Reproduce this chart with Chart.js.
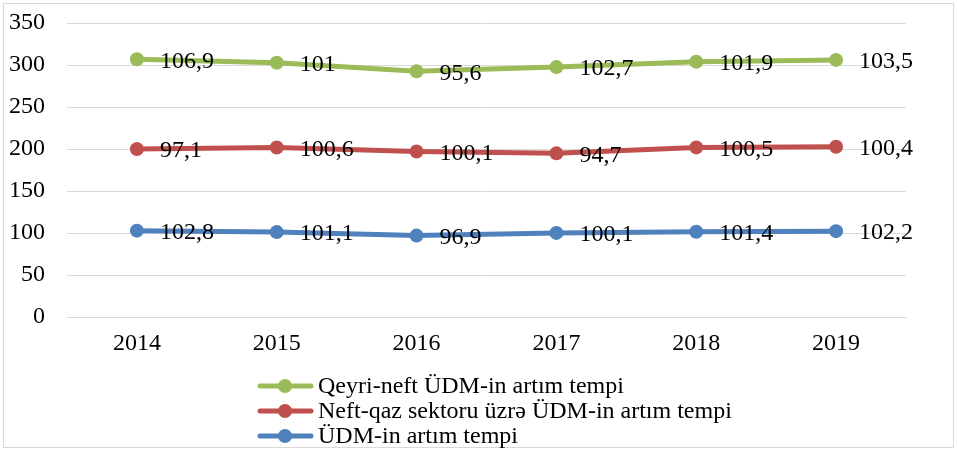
<!DOCTYPE html>
<html>
<head>
<meta charset="utf-8">
<script src="https://cdn.jsdelivr.net/npm/chart.js@4"></script>
<style>
  body { margin: 0; background: #fff; }
</style>
</head>
<body>
<canvas id="myChart" width="957" height="451"></canvas>
<script>
const anios = ["2014", "2015", "2016", "2017", "2018", "2019"];
const udmTempi = [102.8, 101.1, 96.9, 100.1, 101.4, 102.2];
const neftQazTempi = [97.1, 100.6, 100.1, 94.7, 100.5, 100.4];
const qeyriNeftTempi = [106.9, 101, 95.6, 102.7, 101.9, 103.5];
const yTicks = [0, 50, 100, 150, 200, 250, 300, 350];

const fuente = "'Liberation Serif', 'Times New Roman', serif";
const tam = 24;

// fondo blanco y marco gris
const marco = {
  id: "marco",
  beforeDraw(chart) {
    const c = chart.ctx;
    c.save();
    c.fillStyle = "#fff";
    c.fillRect(0, 0, chart.width, chart.height);
    c.strokeStyle = "#D9D9D9";
    c.lineWidth = 1;
    c.strokeRect(3.5, 3.5, 950, 444);
    c.restore();
  }
};

// etiquetas de valores a la derecha de cada punto
const etiquetas = {
  id: "etiquetas",
  afterDatasetsDraw(chart) {
    const c = chart.ctx;
    c.save();
    c.font = tam + "px " + fuente;
    c.fillStyle = "#000";
    c.textAlign = "left";
    c.textBaseline = "middle";
    chart.data.datasets.forEach((ds, i) => {
      const meta = chart.getDatasetMeta(i);
      meta.data.forEach((pt, j) => {
        const txt = String(ds.data[j]).replace(".", ",");
        c.fillText(txt, pt.x + 23, pt.y + 2);
      });
    });
    c.restore();
  }
};

// leyenda estilo Excel (linea con circulo)
const leyenda = {
  id: "leyenda",
  afterDraw(chart) {
    const c = chart.ctx;
    const orden = [2, 1, 0];
    c.save();
    c.font = tam + "px " + fuente;
    c.textBaseline = "middle";
    orden.forEach((idx, k) => {
      const ds = chart.data.datasets[idx];
      const y = 386 + k * 25;
      c.strokeStyle = ds.borderColor;
      c.lineWidth = 5;
      c.lineCap = "round";
      c.beginPath();
      c.moveTo(260, y);
      c.lineTo(311, y);
      c.stroke();
      c.fillStyle = ds.borderColor;
      c.beginPath();
      c.arc(285, y, 7, 0, Math.PI * 2);
      c.fill();
      c.fillStyle = "#000";
      c.fillText(ds.label, 318, y + 1);
    });
    c.restore();
  }
};

const ctx = document.getElementById("myChart");
let myChart = new Chart(ctx, {
  type: "line",
  data: {
    labels: anios,
    datasets: [
      {
        label: "ÜDM-in artım tempi",
        data: udmTempi,
        borderColor: "#4F81BD",
        backgroundColor: "#4F81BD"
      },
      {
        label: "Neft-qaz sektoru üzrə ÜDM-in artım tempi",
        data: neftQazTempi,
        borderColor: "#C0504D",
        backgroundColor: "#C0504D"
      },
      {
        label: "Qeyri-neft ÜDM-in artım tempi",
        data: qeyriNeftTempi,
        borderColor: "#9BBB59",
        backgroundColor: "#9BBB59"
      }
    ]
  },
  options: {
    responsive: false,
    animation: false,
    layout: { padding: { left: 0, top: 23, right: 51, bottom: 0 } },
    elements: {
      line: { borderWidth: 5, tension: 0, fill: false },
      point: { radius: 7, hoverRadius: 7, borderWidth: 0 }
    },
    plugins: {
      legend: { display: false },
      tooltip: { enabled: false }
    },
    scales: {
      x: {
        offset: true,
        grid: { display: false, drawTicks: false, offset: true },
        border: { display: true, color: "#D9D9D9", width: 1 },
        ticks: { color: "#000", font: { family: fuente, size: tam }, padding: 12 },
        afterFit(scale) {
          scale.height = 134;
          scale.paddingLeft = 0;
          scale.paddingRight = 0;
        }
      },
      y: {
        stacked: true,
        min: 0,
        max: 350,
        afterBuildTicks(scale) { scale.ticks = yTicks.map(v => ({ value: v })); },
        grid: { color: "#D9D9D9", lineWidth: 1, drawTicks: false },
        border: { display: false },
        ticks: { color: "#000", font: { family: fuente, size: tam }, padding: 22 },
        afterFit(scale) {
          scale.width = 67;
          scale.paddingTop = 0;
          scale.paddingBottom = 0;
        }
      }
    }
  },
  plugins: [marco, etiquetas, leyenda]
});
</script>
</body>
</html>
